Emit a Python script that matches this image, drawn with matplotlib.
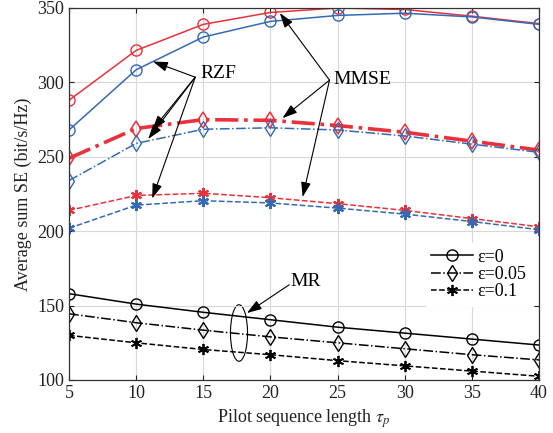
import numpy as np
import matplotlib
matplotlib.use('Agg')
import matplotlib.pyplot as plt
from matplotlib.patches import Ellipse

plt.rcParams['font.family'] = ['Liberation Serif', 'DejaVu Serif']
plt.rcParams['mathtext.fontset'] = 'stix'

tau = [5, 10, 15, 20, 25, 30, 35, 40]

# MMSE (red)
mmse_e0 = [288, 321.5, 339, 347, 350, 349, 344.5, 339.5]
mmse_e05 = [249, 269, 275, 274.5, 271, 266.5, 260.5, 254.5]
mmse_e1 = [214, 224, 225.5, 222.5, 218.5, 214, 208.5, 203]

# RZF (blue)
rzf_e0 = [268, 308.5, 330.5, 341, 345, 346.5, 344, 339]
rzf_e05 = [234, 259, 268.5, 269.5, 268, 264, 258.5, 253]
rzf_e1 = [202, 217.5, 220.5, 219, 215.5, 211.5, 206.5, 201]

# MR (black)
mr_e0 = [158, 151, 145.5, 140.5, 135.5, 131.5, 127.5, 123.5]
mr_e05 = [144.5, 138.5, 133.5, 129, 125, 121, 117, 113.5]
mr_e1 = [130, 125, 120.5, 117, 113, 109.5, 106, 102.5]

red = '#E8313B'
blue = '#3569B3'
ast = (6, 2, 0)

fig = plt.figure(figsize=(5.53, 4.33), dpi=100)
ax = fig.add_axes([69/553, 1-380/433, 470/553, 372/433])

ms = 8
ax.plot(tau, mmse_e0, '-', color=red, lw=1.1, marker='o', ms=ms, mfc='none')
ax.plot(tau, rzf_e0, '-', color=blue, lw=1.1, marker='o', ms=ms, mfc='none')
ax.plot(tau, mmse_e05, '-.', color=red, lw=2.6, marker='d', ms=ms, mfc='none', mew=1.1)
ax.plot(tau, rzf_e05, '-.', color=blue, lw=1.1, marker='d', ms=ms, mfc='none')
ax.plot(tau, mmse_e1, '--', color=red, lw=1.1, marker=ast, ms=ms, mew=1.5)
ax.plot(tau, rzf_e1, '--', color=blue, lw=1.1, marker=ast, ms=ms, mew=1.5)

l1, = ax.plot(tau, mr_e0, '-', color='k', lw=1.1, marker='o', ms=ms, mfc='none')
l2, = ax.plot(tau, mr_e05, '-.', color='k', lw=1.1, marker='d', ms=ms, mfc='none')
l3, = ax.plot(tau, mr_e1, '--', color='k', lw=1.1, marker=ast, ms=ms, mew=1.3)

ax.set_xlim(5, 40)
ax.set_ylim(100, 350)
ax.set_xticks(tau)
ax.set_yticks([100, 150, 200, 250, 300, 350])
ax.grid(True, color='#d8d8d8', lw=0.8)
ax.tick_params(direction='in', top=True, right=True, labelsize=13, colors='#222222')
for s in ax.spines.values():
    s.set_color('#333333')
    s.set_linewidth(0.9)

ax.set_xlabel(r'Pilot sequence length $\tau_p$', fontsize=13, color='#222222')
ax.set_ylabel('Average sum SE (bit/s/Hz)', fontsize=13, color='#222222')

leg = ax.legend([l1, l2, l3], ['ε=0', 'ε=0.05', 'ε=0.1'], loc='upper left',
                bbox_to_anchor=(0.759, 0.368), borderaxespad=0, fontsize=13,
                frameon=True, handlelength=2.33, labelspacing=0.02,
                borderpad=0.3, handletextpad=0.25)
leg.get_frame().set_edgecolor('white')
leg.get_frame().set_alpha(1)
leg.get_frame().set_boxstyle('square', pad=0)

ap = dict(arrowstyle='-|>,head_length=0.9,head_width=0.3', color='k', lw=0.8,
          shrinkA=0, shrinkB=0)

# RZF
ax.text(14.8, 306, 'RZF', fontsize=14, va='center', ha='left')
for tgt in [(11.25, 314), (11.2, 268), (10.9, 262), (11.2, 222)]:
    ax.annotate('', xy=tgt, xytext=(14.4, 303.5), arrowprops=ap)

# MMSE
ax.text(24.7, 302, 'MMSE', fontsize=14, va='center', ha='left')
for tgt in [(20.7, 346.6), (20.9, 276), (22.4, 223)]:
    ax.annotate('', xy=tgt, xytext=(24.4, 301.5), arrowprops=ap)

# MR
ax.text(21.5, 166, 'MR', fontsize=14, va='center', ha='left')
ax.annotate('', xy=(18.25, 145), xytext=(21.4, 164), arrowprops=ap)
ax.add_patch(Ellipse((17.66, 131.6), 1.27, 38, fill=False, color='k', lw=0.8))

fig.savefig('out.png', dpi=100)
